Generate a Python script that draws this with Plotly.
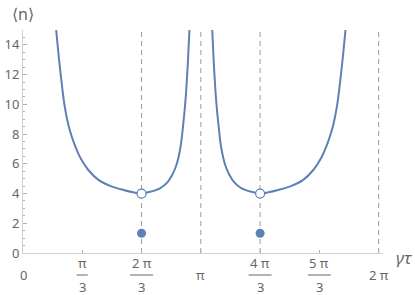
import math
import plotly.graph_objects as go

PI = math.pi

# Branch 1
b1_x = [0.586, 0.62, 0.65, 0.69, 0.733, 0.80, 0.86, 0.915, 0.97, 1.028, 1.15, 1.339, 1.55, 1.775, 1.95, 2.094,
        2.25, 2.428, 2.55, 2.635, 2.70, 2.746, 2.79, 2.829, 2.86, 2.882, 2.91, 2.94]
b1_n = [15, 13.65, 12.55, 11.2, 9.95, 8.65, 7.85, 7.25, 6.75, 6.3, 5.6, 4.9, 4.5, 4.24, 4.08, 4.0,
        4.12, 4.37, 4.75, 5.25, 5.8, 6.4, 7.3, 8.6, 9.8, 10.85, 12.6, 15]
# Branch 2
b2_x = [3.343, 3.373, 3.401, 3.423, 3.454, 3.493, 3.537, 3.583, 3.648, 3.733, 3.855, 4.033, 4.189,
        4.333, 4.508, 4.733, 4.944, 5.133, 5.255, 5.313, 5.368, 5.423, 5.483, 5.550, 5.593, 5.633, 5.663, 5.697]
b2_n = [15, 12.6, 10.85, 9.8, 8.6, 7.3, 6.4, 5.8, 5.25, 4.75, 4.37, 4.12, 4.0,
        4.08, 4.24, 4.5, 4.9, 5.6, 6.3, 6.75, 7.25, 7.85, 8.65, 9.95, 11.2, 12.55, 13.65, 15]

open_x = [2 * PI / 3, 4 * PI / 3]
open_n = [4.0, 4.0]
fill_x = [2 * PI / 3, 4 * PI / 3]
fill_n = [1.33, 1.33]

dash_x = [2 * PI / 3, PI, 4 * PI / 3, 2 * PI]

xtick_vals = [0, PI / 3, 2 * PI / 3, PI, 4 * PI / 3, 5 * PI / 3, 2 * PI]
xtick_num = ["0", "π", "2 π", "π", "4 π", "5 π", "2 π"]
xtick_den = [None, "3", "3", None, "3", "3", None]
ytick_vals = [0, 2, 4, 6, 8, 10, 12, 14]

BLUE = "#5E81B5"
TXT = "#666666"
FONT = "Noto Sans"

fig = go.Figure()
for dx in dash_x:
    fig.add_trace(go.Scatter(x=[dx, dx], y=[0, 15], mode="lines",
                             line=dict(color="#9a9a9a", width=1, dash="5px,4px"),
                             hoverinfo="skip", showlegend=False))
for bx, bn in ((b1_x, b1_n), (b2_x, b2_n)):
    fig.add_trace(go.Scatter(x=bx, y=bn, mode="lines",
                             line=dict(color=BLUE, width=2, shape="spline", smoothing=1.0),
                             showlegend=False))
fig.add_trace(go.Scatter(x=open_x, y=open_n, mode="markers",
                         marker=dict(size=9, color="white", line=dict(color=BLUE, width=1.2)),
                         showlegend=False, cliponaxis=False))
fig.add_trace(go.Scatter(x=fill_x, y=fill_n, mode="markers",
                         marker=dict(size=9, color=BLUE), showlegend=False))

shapes = []
annotations = []
for v, num, den in zip(xtick_vals, xtick_num, xtick_den):
    if den is None:
        annotations.append(dict(x=v, y=0, xref="x", yref="y", text=num, showarrow=False,
                                yshift=-22, yanchor="middle",
                                font=dict(family=FONT, size=13, color=TXT)))
    else:
        annotations.append(dict(x=v, y=0, xref="x", yref="y", text=num, showarrow=False,
                                yshift=-10, yanchor="middle",
                                font=dict(family=FONT, size=13, color=TXT)))
        annotations.append(dict(x=v, y=0, xref="x", yref="y", text=den, showarrow=False,
                                yshift=-34, yanchor="middle",
                                font=dict(family=FONT, size=13, color=TXT)))
        half = 5.5 if len(num) == 1 else 11.5
        shapes.append(dict(type="line", xref="x", yref="paper", xsizemode="pixel", ysizemode="pixel",
                           xanchor=v, yanchor=0, x0=-half, x1=half, y0=-22, y1=-22,
                           line=dict(color=TXT, width=1)))

annotations.append(dict(x=1.0, y=0, xref="paper", yref="y", text="<i>γτ</i>", showarrow=False,
                        xanchor="left", yanchor="middle", xshift=11, yshift=-4,
                        font=dict(family=FONT, size=17, color=TXT)))
annotations.append(dict(x=0, y=15, xref="x", yref="y", text="⟨n⟩", showarrow=False,
                        xanchor="center", yanchor="middle", yshift=16,
                        font=dict(family=FONT, size=16, color=TXT)))

fig.update_layout(
    width=415, height=295,
    margin=dict(l=23, r=32, t=30, b=42),
    paper_bgcolor="white", plot_bgcolor="white",
    shapes=shapes, annotations=annotations,
    xaxis=dict(range=[0, 6.36], showgrid=False, zeroline=False, showline=True,
               linecolor="#d0d0d0", linewidth=1, ticks="inside", ticklen=3,
               tickcolor="#b0b0b0", tickvals=xtick_vals[1:], showticklabels=False),
    yaxis=dict(range=[0, 15], showgrid=False, zeroline=False, showline=True,
               linecolor="#d0d0d0", linewidth=1, ticks="inside", ticklen=4,
               tickcolor="#b0b0b0", tickvals=ytick_vals, automargin=False,
               tickfont=dict(family=FONT, size=13, color=TXT),
               minor=dict(dtick=0.5, ticks="inside", ticklen=2, tickcolor="#b0b0b0")),
)

fig.write_html("out.html", config={"displayModeBar": False},
               post_script="document.body.style.margin='0px';")
